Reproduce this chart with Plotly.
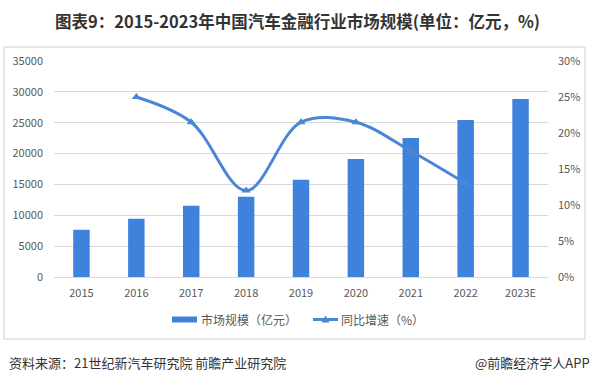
import plotly.graph_objects as go

years = ["2015", "2016", "2017", "2018", "2019", "2020", "2021", "2022", "2023E"]
market_size = [7650, 9430, 11540, 12990, 15740, 19140, 22540, 25450, 28850]
growth_years = ["2016", "2017", "2018", "2019", "2020", "2021", "2022"]
growth_pct = [25.0, 21.5, 12.0, 21.5, 21.5, 17.5, 13.0]

left_ticks = [0, 5000, 10000, 15000, 20000, 25000, 30000, 35000]
right_ticks = [0, 5, 10, 15, 20, 25, 30]

BAR_NAME = "市场规模（亿元）"
LINE_NAME = "同比增速（%）"

W, H = 593, 384
L, R, T, B = 54, 45, 61, 107
pw, ph = W - L - R, H - T - B

def px(x):
    return (x - L) / pw

def py(y):
    return (H - B - y) / ph

BAR_COLOR = "#3F82DB"
LINE_COLOR = "#4A86D6"
FONT = "Noto Sans CJK SC, Noto Sans, sans-serif"

fig = go.Figure()
fig.add_trace(go.Bar(
    x=years, y=market_size, name=BAR_NAME,
    marker=dict(color=BAR_COLOR, line=dict(width=0)),
    yaxis="y", showlegend=False,
))
fig.add_trace(go.Scatter(
    x=growth_years, y=growth_pct, name=LINE_NAME,
    mode="lines+markers",
    line=dict(color=LINE_COLOR, width=3, shape="spline", smoothing=1.0),
    marker=dict(symbol="triangle-up", size=8, color=LINE_COLOR),
    yaxis="y2", showlegend=False,
))

tick_font = dict(family=FONT, size=11, color="#595959")

# custom legend (Excel-style)
ly = py(319.5)
tri_x, tri_y = 325.5, 319.5
shapes = [
    dict(type="rect", xref="paper", yref="paper",
         x0=px(4), x1=px(585), y0=py(339), y1=py(47),
         line=dict(color="#d0d0d0", width=1), fillcolor="rgba(0,0,0,0)", layer="below"),
    dict(type="rect", xref="paper", yref="paper",
         x0=px(172), x1=px(197), y0=py(322.5), y1=py(316.5),
         line=dict(width=0), fillcolor=BAR_COLOR),
    dict(type="line", xref="paper", yref="paper",
         x0=px(313), x1=px(338), y0=ly, y1=ly,
         line=dict(color=LINE_COLOR, width=3)),
    dict(type="path", xref="paper", yref="paper",
         path=f"M {px(tri_x-4)},{py(tri_y+3)} L {px(tri_x)},{py(tri_y-4)} L {px(tri_x+4)},{py(tri_y+3)} Z",
         line=dict(width=0), fillcolor=LINE_COLOR),
]

fig.update_layout(
    width=W, height=H,
    margin=dict(l=L, r=R, t=T, b=B, autoexpand=False),
    paper_bgcolor="white", plot_bgcolor="white",
    bargap=0.7,
    showlegend=False,
    title=dict(text="<b>图表9：2015-2023年中国汽车金融行业市场规模(单位：亿元，%)</b>",
               x=px(297.5), xanchor="center", xref="paper", y=1 - 22 / H, yanchor="middle",
               font=dict(family=FONT, size=16.5, color="#333333")),
    xaxis=dict(type="category", categoryorder="array", categoryarray=years,
               showgrid=False, showline=True, linecolor="#d9d9d9", ticks="",
               tickfont=tick_font, ticklabelstandoff=6),
    yaxis=dict(range=[0, 35000], tickvals=left_ticks, ticktext=[str(v) for v in left_ticks],
               showgrid=True, gridcolor="#d9d9d9", gridwidth=1, zeroline=False,
               showline=False, tickfont=tick_font, ticks="", ticklabelstandoff=10),
    yaxis2=dict(range=[0, 30], tickvals=right_ticks, ticktext=[f"{v}%" for v in right_ticks],
                overlaying="y", side="right", showgrid=False, zeroline=False,
                showline=False, tickfont=tick_font, ticks="", ticklabelstandoff=9),
    font=dict(family=FONT),
    shapes=shapes,
    annotations=[
        dict(text=BAR_NAME, xref="paper", yref="paper",
             x=px(199), y=ly, xanchor="left", yanchor="middle", showarrow=False,
             font=dict(family=FONT, size=12, color="#595959")),
        dict(text=LINE_NAME, xref="paper", yref="paper",
             x=px(339), y=ly, xanchor="left", yanchor="middle", showarrow=False,
             font=dict(family=FONT, size=12, color="#595959")),
        dict(text="资料来源：21世纪新汽车研究院 前瞻产业研究院", xref="paper", yref="paper",
             x=px(7), y=py(362), xanchor="left", yanchor="middle", showarrow=False,
             font=dict(family=FONT, size=13, color="#333333")),
        dict(text="@前瞻经济学人APP", xref="paper", yref="paper",
             x=px(592), y=py(362), xanchor="right", yanchor="middle", showarrow=False,
             font=dict(family=FONT, size=13, color="#333333")),
    ],
)

fig.write_html("out.html", config={"displayModeBar": False},
               post_script="document.body.style.margin='0';document.body.style.padding='0';")
